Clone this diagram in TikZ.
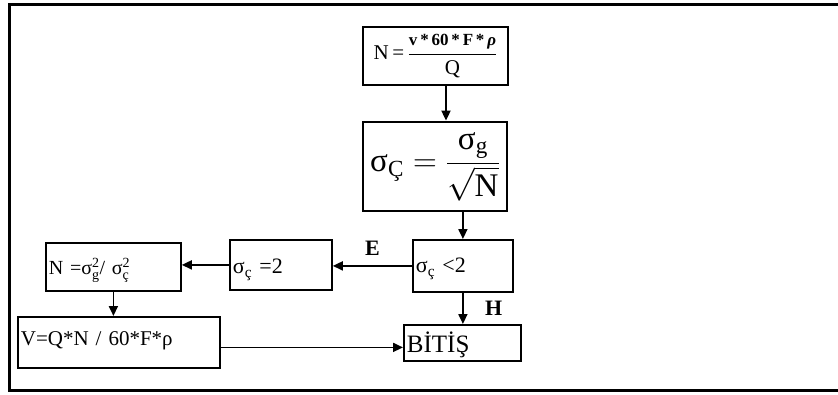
\RequirePackage{fix-cm}
\documentclass[tikz,border=0pt]{standalone}
\usepackage{amsmath}
\usepackage{fontspec}
\setmainfont{Liberation Serif}
\usepackage{tikz}
\usetikzlibrary{arrows.meta,calc}
\tikzset{
  stepbox/.style={draw,line width=1.8pt,inner ysep=0pt,inner xsep=3pt,align=left,anchor=north west},
  bigbox/.style={draw,line width=2.8pt,inner sep=0pt,align=center},
  arr/.style={-{Triangle[length=10pt,width=9pt]},line width=1.8pt},
  frame/.style={line width=3pt},
  branchlab/.style={font=\fontsize{22}{22}\selectfont\bfseries}
}

\begin{document}
\begin{tikzpicture}[
  x=1pt,y=-1pt,
  boxfont/.style={font=\fontsize{22}{22}\selectfont},
  endfont/.style={font=\fontsize{25}{25}\selectfont}
]

\useasboundingbox (0,0) rectangle (838,394);
\draw[frame] (838,4) -- (9,4) -- (9,390) -- (838,390);

% top formula boxes
\node[bigbox,line width=2.4pt,minimum width=145pt,minimum height=58pt,
  font=\fontsize{21}{21}\selectfont] (Bform) at (435.5,56)
  {N\,=\,$\dfrac{\text{\fontsize{17}{17}\selectfont\bfseries v\,*\,60\,*\,F\,*\,\textit{ρ}}}{\text{Q}}$};

\node[bigbox,minimum width=144pt,minimum height=89pt,
  font=\fontsize{33}{33}\selectfont] (Bsigma) at (435,166.5)
  {$\text{σ}_{\text{Ç}} = \dfrac{\text{σ}_{\text{g}}}{\sqrt{\text{N}}}$};

% decision and steps
\node[stepbox,boxfont,text width=94pt,text height=33pt,text depth=19pt] (Bcheck) at (412,239)
  {σ$_{\text{ç}}$ <2};
\node[stepbox,boxfont,text width=96pt,text height=34pt,text depth=16pt] (Bequal) at (229,239)
  {σ$_{\text{ç}}$ =2};
\node[stepbox,font=\fontsize{20}{20}\selectfont,text width=129pt,text height=32pt,text depth=16pt] (Bsquare) at (45,242)
  {N =σ$^{\text{2}}_{\text{g}}$/ σ$^{\text{2}}_{\text{ç}}$};
\node[stepbox,font=\fontsize{21}{21}\selectfont,text width=196pt,text height=29pt,text depth=22pt] (Bvol) at (17,316)
  {V=Q*N / 60*F*ρ};
\node[stepbox,endfont,text width=111pt,text height=28pt,text depth=8pt] (Bend) at (403,324)
  {BİTİŞ};

\coordinate (Fout) at ([xshift=10.5pt]Bform.south);
\coordinate (Vout) at ([yshift=-5pt]Bvol.east);

\draw[arr] (Fout) -- (Fout |- Bsigma.north);
\draw[arr] (Bsigma.south -| Bcheck.north) -- (Bcheck.north);
\draw[arr] (Bcheck.west) -- (Bcheck.west -| Bequal.east)
  node[branchlab,midway,above=6pt] {E};
\draw[arr] (Bequal.west) -- (Bequal.west -| Bsquare.east);
\draw[arr] (Bsquare.south) -- (Bsquare.south |- Bvol.north);
\draw[arr] (Vout) -- (Vout -| Bend.west);
\draw[arr] (Bcheck.south) -- (Bcheck.south |- Bend.north)
  node[branchlab,midway,right=18pt] {H};

\end{tikzpicture}
\end{document}
